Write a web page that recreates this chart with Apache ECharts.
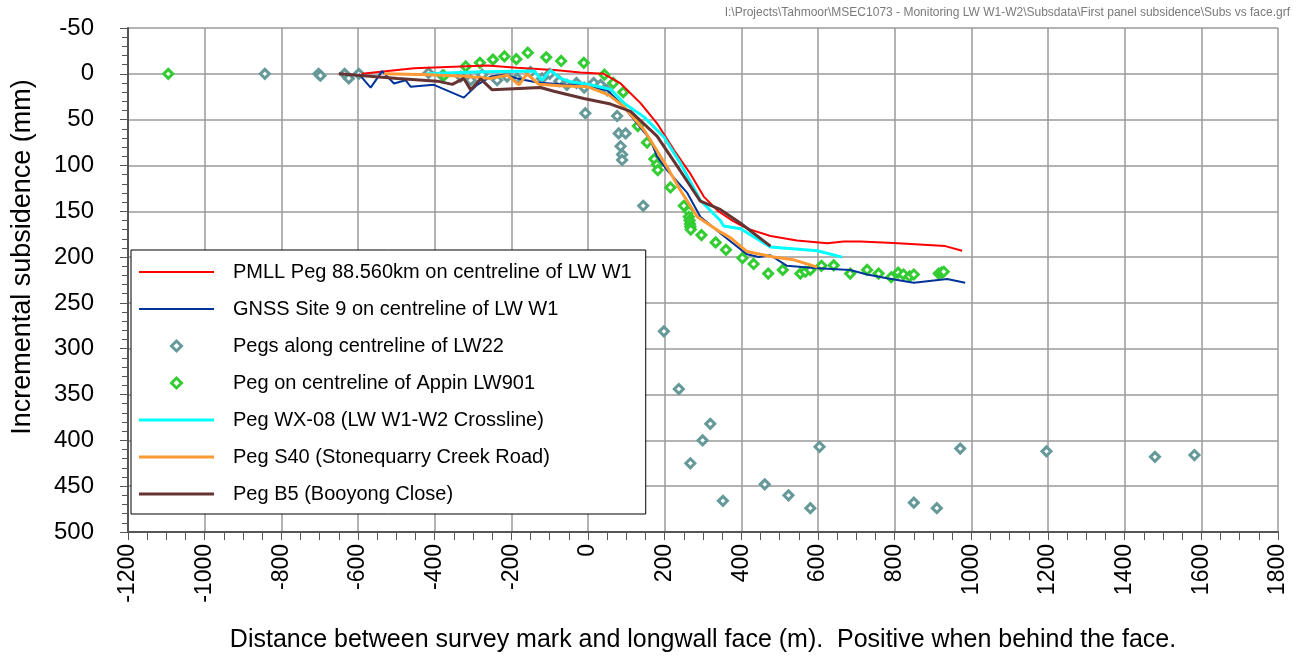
<!DOCTYPE html>
<html lang="en">
<head>
	<meta charset="UTF-8">
	<title>Subs vs face</title>
	<script type="text/javascript" src="https://cdn.jsdelivr.net/npm/echarts@6/dist/echarts.min.js"></script>
	<style>
		html, body, #content {
			width: 100%;
			height: 100%;
			margin: 0;
			background: #fff;
		}
	</style>
</head>
<body>
	<div id="content"></div>
	<script>
		// series data: [distance from face (m), incremental subsidence (mm)]
		var pmllPeg = [[-590,0],[-454,-6],[-263,-9],[-185,-6.5],[-80,-4],[-20,-1.5],[41,0],[85,10.5],[137,32],[180,54],
			[224,83],[267,109],[302,134],[340,150],[372,159],[398,165],[424,170],[476,177],[545,182],[624,185],
			[667,183],[710,183],[797,184.5],[932,188],[976,193]];
		var gnssSite9 = [[-598,0],[-567,15],[-537,-3],[-506,10.5],[-476,7],[-463,14],[-402,12],[-324,26],[-289,12],[-254,3],
			[-220,1],[-185,5],[-132,9.5],[-63,11.6],[-11,12.3],[50,18],[85,32],[128,54],[163,72],[180,90],
			[206,105],[259,130],[293,156],[354,177],[415,197],[445,200],[476,198],[519,209.5],[589,212],[684,214],
			[728,219],[780,223],[850,228],[937,224],[984,228]];
		var pegsLW22 = [[-843,0],[-703,0],[-698,2],[-635,0],[-624,5],[-598,0],[-416,-1],[-380,2],[-332,3],[-306,7],
			[-276,1],[-237,7],[-211,3],[-185,5],[-150,-2],[-120,5],[-100,0],[-75,8],[-55,12],[-30,10],
			[-10,15],[-7,43],[15,10],[33,12],[50,18],[76,46],[80,65],[98,65],[85,79],[89,88],
			[89,94],[144,144],[198,281],[237,344],[267,425],[299,400],[319,382],[352,466],[461,448],[523,460],
			[580,474],[604,407],[850,468],[910,474],[971,409],[1196,412],[1479,418],[1582,416]];
		var appinLW901 = [[-1095,0],[-376,2],[-319,-8],[-282,-12],[-248,-15.5],[-218,-19],[-187,-16],[-157,-23],[-109,-18],[-70,-14],
			[-11,-12],[43,1],[66,10],[92,20],[130,57],[154,75],[173,93],[180,99],[182,105],[215,124],
			[250,144],[263,150],[263,156],[265,160],[266,164],[267,167],[268,170],[296,176],[333,184],[360,192],
			[403,201],[432,207.5],[470,218],[508,214],[554,218],[567,216],[580,214],[609,209.5],[641,209],[684,218],
			[728,214],[758,218],[791,222],[809,217],[823,219],[839,221],[850,219],[915,218],[922,217],[928,216]];
		var pegWX08 = [[-420,0],[-298,-2],[-228,-2.5],[-141,-3],[-120,7],[-98,-4],[-72,5],[-46,8.7],[6,12],[59,17],
			[94,32],[146,47],[198,69],[241,97.5],[293,138],[345,160],[354,166],[398,169],[476,189],[598,193],[663,200]];
		var pegS40 = [[-532,0],[-411,1],[-315,3],[-254,5],[-211,1.5],[-180,12],[-159,0],[-128,11.5],[-72,13],[-2,14],
			[54,23],[94,36],[146,61],[206,101.5],[241,127],[285,156],[345,172.5],[372,179],[415,194],[484,200],
			[537,203],[598,211]];
		var pegB5 = [[-650,0],[-497,5],[-393,8],[-354,11.5],[-324,5],[-306,17.5],[-280,5.5],[-250,17.5],[-124,15],[-89,19],
			[-11,27],[59,33],[111,41],[180,68],[241,106],[293,139],[345,148],[398,163],[476,188]];

		var seriesNames = ['PMLL Peg 88.560km on centreline of LW W1', 'GNSS Site 9 on centreline of LW W1',
			'Pegs along centreline of LW22', 'Peg on centreline of Appin LW901', 'Peg WX-08 (LW W1-W2 Crossline)',
			'Peg S40 (Stonequarry Creek Road)', 'Peg B5 (Booyong Close)'];

		var fileLabel = 'I:\\Projects\\Tahmoor\\MSEC1073 - Monitoring LW W1-W2\\Subsdata\\First panel subsidence\\Subs vs face.grf';
		var font = '"Liberation Sans", Arial, sans-serif';

		var colors = {
			pmll: '#ff0000', gnss: '#003399', lw22: '#669999', appin: '#33cc33',
			wx08: '#00ffff', s40: '#ff9933', b5: '#663333'
		};

		var chart = echarts.init(document.getElementById('content'));

		function lineSeries(name, data, color, width) {
			return {
				name: name, type: 'line', data: data, symbol: 'none', showSymbol: false,
				lineStyle: { color: color, width: width }, itemStyle: { color: color }, z: 3
			};
		}
		function pointSeries(name, data, color) {
			return {
				name: name, type: 'scatter', data: data, symbol: 'diamond', symbolSize: 9,
				itemStyle: { color: '#fff', borderColor: color, borderWidth: 3, opacity: 1 }, z: 2
			};
		}
		// legend icons: thin bar for lines, small hollow diamond for points
		function lineIcon(name, color, width) {
			return {
				name: name, icon: 'path://M0,0L75,0L75,' + width + 'L0,' + width + 'Z',
				itemStyle: { color: color, borderWidth: 0 }
			};
		}
		function pointIcon(name, color) {
			return {
				name: name, icon: 'path://M5,0L10,5L5,10L0,5Z',
				itemStyle: { color: '#fff', borderColor: color, borderWidth: 3 }
			};
		}

		chart.setOption({
			animation: false,
			backgroundColor: '#fff',
			grid: { left: 128, right: 20, top: 28, bottom: 127 },
			graphic: [{
				type: 'text', right: 8, top: 7,
				style: { text: fileLabel, fill: '#7a7a7a', font: '12px ' + font }
			}],
			legend: {
				data: [
					lineIcon(seriesNames[0], colors.pmll, 2),
					lineIcon(seriesNames[1], colors.gnss, 2),
					pointIcon(seriesNames[2], colors.lw22),
					pointIcon(seriesNames[3], colors.appin),
					lineIcon(seriesNames[4], colors.wx08, 3),
					lineIcon(seriesNames[5], colors.s40, 3),
					lineIcon(seriesNames[6], colors.b5, 3)
				],
				orient: 'vertical', left: 131, top: 250,
				padding: [12, 14, 10, 8], itemGap: 17,
				itemWidth: 75, itemHeight: 10,
				backgroundColor: '#fff', borderColor: '#000', borderWidth: 1,
				textStyle: { fontFamily: font, fontSize: 20, color: '#000', lineHeight: 20, padding: [0, 0, 0, 14] },
				z: 10
			},
			xAxis: {
				type: 'value', min: -1200, max: 1800, interval: 200,
				name: 'Distance between survey mark and longwall face (m).  Positive when behind the face.',
				nameLocation: 'middle', nameGap: 96,
				nameTextStyle: { fontFamily: font, fontSize: 25, color: '#000' },
				axisLine: { show: true, onZero: false, lineStyle: { color: '#555', width: 2 } },
				axisTick: { show: true, length: 8, lineStyle: { color: '#555', width: 1 } },
				minorTick: { show: true, splitNumber: 4, length: 8, lineStyle: { color: '#555', width: 1 } },
				axisLabel: {
					rotate: 90, margin: 12, fontFamily: font, fontSize: 23, color: '#000',
					formatter: function (v) { return String(v); }
				},
				splitLine: { show: true, lineStyle: { color: '#9a9a9a', width: 1.5 } }
			},
			yAxis: {
				type: 'value', inverse: true, min: -50, max: 500, interval: 50,
				name: 'Incremental subsidence (mm)',
				nameLocation: 'middle', nameGap: 92,
				nameTextStyle: { fontFamily: font, fontSize: 27, color: '#000', padding: [0, 0, 0, 46] },
				axisLine: { show: true, onZero: false, lineStyle: { color: '#555', width: 2 } },
				axisTick: { show: true, length: 8, lineStyle: { color: '#555', width: 1 } },
				minorTick: { show: true, splitNumber: 5, length: 6, lineStyle: { color: '#555', width: 1 } },
				axisLabel: {
					margin: 34, fontFamily: font, fontSize: 24, color: '#000',
					formatter: function (v) { return String(v); }
				},
				splitLine: { show: true, lineStyle: { color: '#9a9a9a', width: 1.5 } }
			},
			series: [
				pointSeries(seriesNames[2], pegsLW22, colors.lw22),
				pointSeries(seriesNames[3], appinLW901, colors.appin),
				lineSeries(seriesNames[0], pmllPeg, colors.pmll, 2),
				lineSeries(seriesNames[1], gnssSite9, colors.gnss, 2),
				lineSeries(seriesNames[4], pegWX08, colors.wx08, 3),
				lineSeries(seriesNames[5], pegS40, colors.s40, 3),
				lineSeries(seriesNames[6], pegB5, colors.b5, 3)
			]
		});

		window.onresize = chart.resize;
	</script>
</body>
</html>
